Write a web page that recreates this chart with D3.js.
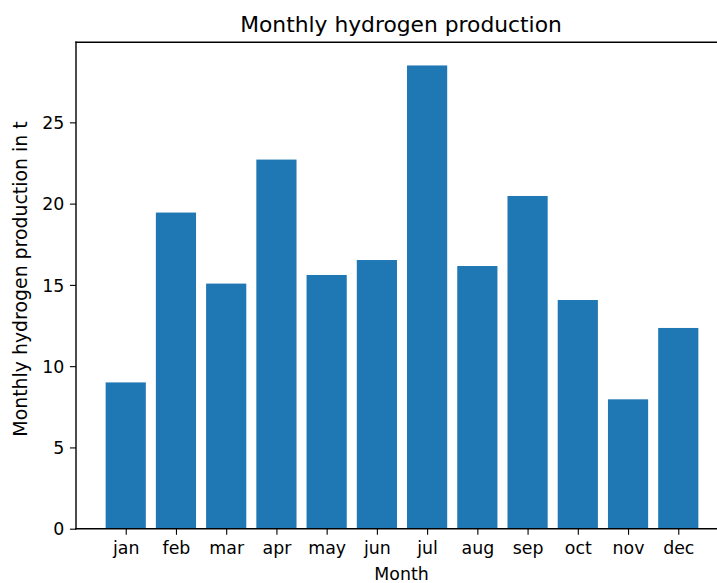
<!DOCTYPE html>
<html>
<head>
<meta charset="utf-8">
<script src="https://cdn.jsdelivr.net/npm/d3@7"></script>
<style>
  body { margin: 0; background: #fff; }
  text { font-family: "DejaVu Sans", sans-serif; fill: #000; }
</style>
</head>
<body>
<svg id="chart"></svg>
<script>
// Chart size, same as the browser window
const width = 717;
const height = 583;

// Data
const months = ["jan", "feb", "mar", "apr", "may", "jun", "jul", "aug", "sep", "oct", "nov", "dec"];
const production = [9.0, 19.45, 15.08, 22.71, 15.61, 16.53, 28.5, 16.16, 20.47, 14.07, 7.96, 12.35];
const yTicks = [0, 5, 10, 15, 20, 25];

// Axes box (right spine sits just outside the picture, like the reference crop)
const margin = { left: 76, top: 42.3, right: 728, bottom: 528.7 };
const barWidth = 0.8;

const svg = d3.select("#chart")
    .attr("width", width)
    .attr("height", height);

// x: bars sit on integer positions, 5% padding on each side like matplotlib
const lo = -barWidth / 2, hi = months.length - 1 + barWidth / 2;
const pad = (hi - lo) * 0.05;
const x = d3.scaleLinear()
    .domain([lo - pad, hi + pad])
    .range([margin.left, margin.right]);

const y = d3.scaleLinear()
    .domain([0, d3.max(production) * 1.05])
    .range([margin.bottom, margin.top]);

// Bars
svg.selectAll("rect.bar")
    .data(production)
    .enter()
    .append("rect")
    .attr("class", "bar")
    .attr("x", (d, i) => x(i - barWidth / 2))
    .attr("y", d => y(d))
    .attr("width", (d, i) => x(i + barWidth / 2) - x(i - barWidth / 2))
    .attr("height", d => y(0) - y(d))
    .attr("fill", "#1f77b4");

// x axis
const xAxis = svg.append("g")
    .attr("transform", `translate(0,${margin.bottom})`)
    .call(d3.axisBottom(x)
        .tickValues(d3.range(months.length))
        .tickFormat(i => months[i])
        .tickSize(6.1)
        .tickPadding(6.5));

// y axis
const yAxis = svg.append("g")
    .attr("transform", `translate(${margin.left},0)`)
    .call(d3.axisLeft(y)
        .tickValues(yTicks)
        .tickSize(6.1)
        .tickPadding(5.5));

[xAxis, yAxis].forEach(g => {
    g.select(".domain").remove();
    g.selectAll(".tick line").attr("stroke", "#000").attr("stroke-width", 1.1);
    g.selectAll(".tick text")
        .attr("fill", "#000")
        .style("font-size", "17.36px")
        .style("font-family", "'DejaVu Sans', sans-serif");
});
xAxis.selectAll(".tick text").attr("dy", "0.76em");
yAxis.selectAll(".tick text").attr("dy", "0.36em");

// Spines: left, top, bottom (right one is off the picture)
const spine = [
    [margin.left, margin.bottom, margin.left, margin.top],
    [margin.left, margin.top, margin.right, margin.top],
    [margin.left, margin.bottom, margin.right, margin.bottom]
];
svg.selectAll("line.spine")
    .data(spine)
    .enter()
    .append("line")
    .attr("class", "spine")
    .attr("x1", d => d[0])
    .attr("y1", d => d[1])
    .attr("x2", d => d[2])
    .attr("y2", d => d[3])
    .attr("stroke", "#000")
    .attr("stroke-width", 1.4)
    .attr("stroke-linecap", "square");

// Title and axis labels
svg.append("text")
    .attr("x", 401)
    .attr("y", 31.5)
    .attr("text-anchor", "middle")
    .style("font-size", "21.8px")
    .text("Monthly hydrogen production");

svg.append("text")
    .attr("x", 401.5)
    .attr("y", 580)
    .attr("text-anchor", "middle")
    .style("font-size", "17.36px")
    .text("Month");

svg.append("text")
    .attr("transform", "translate(27,279) rotate(-90)")
    .attr("text-anchor", "middle")
    .style("font-size", "18.9px")
    .text("Monthly hydrogen production in t");
</script>
</body>
</html>
